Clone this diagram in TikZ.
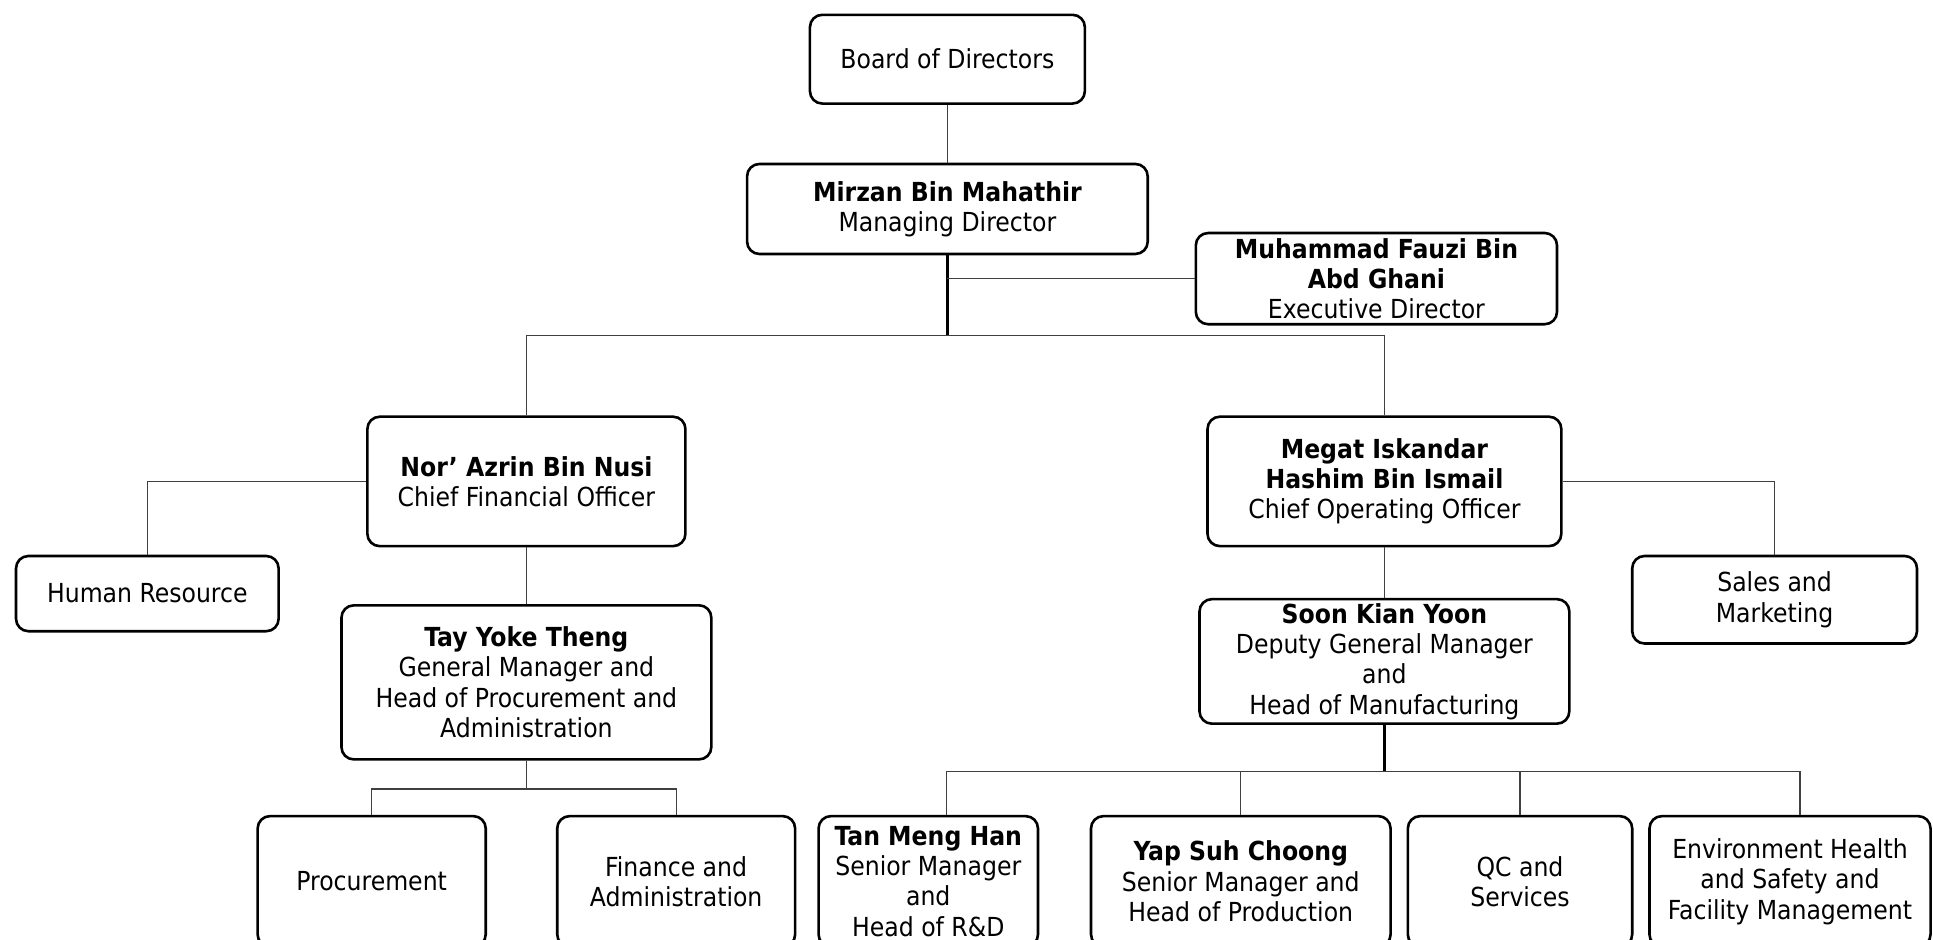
\documentclass[tikz,border=0pt]{standalone}
\usepackage{fontspec}
\setmainfont{DejaVu Sans Condensed}
\usetikzlibrary{positioning}

\tikzset{
  unit/.style 2 args={draw, rounded corners=0.2cm, line width=1.2pt, align=center,
    inner sep=0pt, minimum width=#1*0.02cm, minimum height=#2*0.02cm,
    font=\fontsize{12.1}{14}\selectfont},
  link/.style={line width=0.6pt, black!75},
  trunk/.style={line width=1.2pt}
}

\begin{document}
\begin{tikzpicture}[x=0.02cm, y=-0.02cm]
\useasboundingbox (0,0) rectangle (1568,762);
% top of the chart
\node[unit={223}{72}] (board) at (768.5,48) {Board of Directors};
\node[unit={325}{73}] (md) at (768.5,169.5) {\textbf{Mirzan Bin Mahathir}\\Managing Director};
\node[unit={293}{74}] (ed) at (1116.5,226) {\textbf{Muhammad Fauzi Bin}\\\textbf{Abd Ghani}\\Executive Director};
% officers
\node[unit={258}{105}] (cfo) at (427,390.5) {\textbf{Nor' Azrin Bin Nusi}\\Chief Financial Officer};
\node[unit={287}{105}] (coo) at (1123,390.5) {\textbf{Megat Iskandar}\\\textbf{Hashim Bin Ismail}\\Chief Operating Officer};
\node[unit={213}{61}] (hr) at (119.5,481.5) {Human Resource};
\node[unit={231}{71}] (sales) at (1439.5,486.5) {Sales and\\Marketing};
\node[unit={300}{125}] (gm) at (427,553.5) {\textbf{Tay Yoke Theng}\\General Manager and\\Head of Procurement and\\Administration};
\node[unit={300}{101}] (dgm) at (1123,536.5) {\textbf{Soon Kian Yoon}\\Deputy General Manager\\and\\Head of Manufacturing};
% bottom row
\node[unit={185}{106}] (proc) at (301.5,715) {Procurement};
\node[unit={193}{106}] (fin) at (548.5,715) {Finance and\\Administration};
\node[unit={178}{106}] (tan) at (753,715) {\textbf{Tan Meng Han}\\Senior Manager\\and\\Head of R\&D};
\node[unit={243}{106}] (yap) at (1006.5,715) {\textbf{Yap Suh Choong}\\Senior Manager and\\Head of Production};
\node[unit={182}{106}] (qc) at (1233,715) {QC and\\Services};
\node[unit={228}{106}] (ehs) at (1452,715) {Environment Health\\and Safety and\\Facility Management};

\coordinate (bus) at (768.5,272);
\coordinate (gbus) at (427,640);
\coordinate (mbus) at (1123,626);

\draw[link] (board) -- (md);
\draw[trunk] (md) -- (bus);
\draw[link] (ed.west) -- (ed.west -| md.south);
\draw[link] (bus) -| (cfo.north);
\draw[link] (bus) -| (coo.north);
\draw[link] (cfo.west) -| (hr.north);
\draw[link] (coo.east) -| (sales.north);
\draw[link] (cfo) -- (gm);
\draw[link] (coo) -- (dgm);
\draw[link] (gm) -- (gbus);
\draw[link] (gbus) -| (proc.north);
\draw[link] (gbus) -| (fin.north);
\draw[trunk] (dgm) -- (mbus);
\draw[link] (mbus) -| ([xshift=0.3cm]tan.north);
\draw[link] (mbus) -| (yap.north);
\draw[link] (mbus) -| (qc.north);
\draw[link] (mbus) -| ([xshift=0.16cm]ehs.north);
\end{tikzpicture}
\end{document}
